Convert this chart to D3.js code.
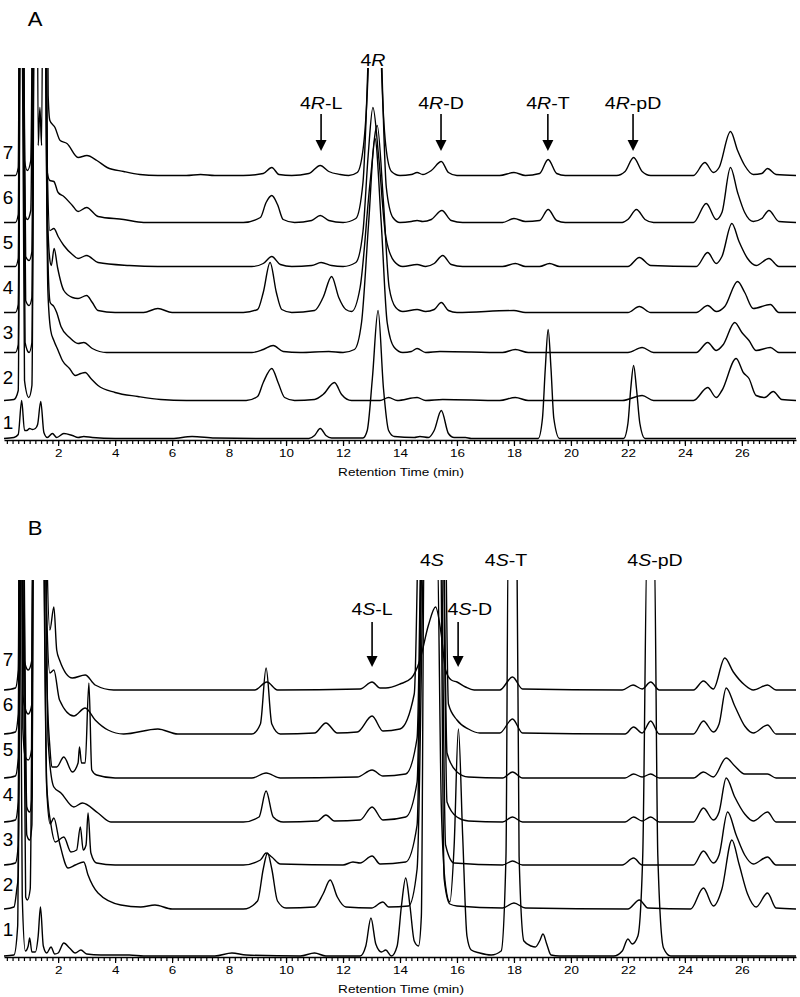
<!DOCTYPE html>
<html><head><meta charset="utf-8">
<script src="https://cdn.jsdelivr.net/npm/d3@7"></script>
<style>
body{margin:0;background:#fff;}
svg{display:block;font-family:"Liberation Sans",Arial,sans-serif;}
</style></head><body>
<svg id="chart" width="800" height="997"></svg>
<script>
// retention time window (min)
const rtDomain = [0.1, 27.9];
const majorTicks = [2, 4, 6, 8, 10, 12, 14, 16, 18, 20, 22, 24, 26];

// vertical offset of each trace (signal units), trace 1..7
const offsetsA = [0, 38, 86, 126, 172, 216, 263];
const offsetsB = [0, 47, 91, 134, 178, 222, 266];

// panel A traces: [time, signal]
const traceA1 = [[0.1,0],[0.45,1],[0.6,4],[0.72,38],[0.82,8],[0.9,8],[1.0,10],[1.1,9],[1.2,10],[1.28,14],[1.39,37],[1.5,6],[1.62,1],[1.8,5],[1.95,1],[2.2,5],[2.5,3],[2.7,1],[2.9,2],[3.2,1],[4,0],[6.0,0],[6.7,2],[7.5,0.5],[9,0],[10.8,0],[11.0,3],[11.2,10],[11.4,3],[11.6,0.5],[12.7,0.5],[12.85,8],[13.03,60],[13.23,128],[13.42,50],[13.6,8],[13.8,2],[14.5,1],[14.7,2],[15.0,1],[15.2,8],[15.45,28],[15.7,5],[15.9,1],[16.3,1],[16.5,0],[18.85,0],[19.0,20],[19.1,70],[19.2,109],[19.3,70],[19.4,20],[19.6,0],[21.85,0],[22.0,15],[22.1,50],[22.2,73],[22.3,50],[22.42,15],[22.6,0],[27.9,0]];
const traceA2 = [[0.1,0],[0.45,1],[0.6,10],[0.68,420],[0.73,420],[0.82,20],[0.97,3],[1.08,15],[1.17,420],[1.52,420],[1.64,110],[1.74,70],[1.85,60],[2.0,50],[2.15,40],[2.4,32],[2.6,25],[2.8,27],[2.95,28],[3.15,22],[3.4,15],[4.0,8],[4.8,4],[5.6,1],[6.5,0],[8.6,0],[9.0,4],[9.2,18],[9.5,32],[9.72,18],[9.95,3],[10.3,0],[11.0,1],[11.3,6],[11.7,18],[11.95,6],[12.3,0],[13.3,0],[13.6,3],[13.9,0],[14.6,3],[14.9,0],[15.5,1],[17.5,0],[18.05,3],[18.5,0],[21.8,0],[22.5,5],[22.9,0],[24.3,0],[24.8,13],[25.1,3],[25.3,10],[25.8,42],[26.05,28],[26.25,22],[26.5,5],[26.8,3],[27.1,9],[27.4,1],[27.9,0]];
const traceA3 = [[0.1,0],[0.5,0],[0.6,8],[0.68,420],[0.73,420],[0.84,10],[0.98,0],[1.08,10],[1.17,420],[1.52,420],[1.62,120],[1.72,50],[1.85,46],[1.95,40],[2.1,26],[2.4,15],[2.7,9],[2.9,10],[3.2,4],[3.7,0],[8.8,0],[9.2,3],[9.55,7],[9.9,1],[10.5,0],[11.5,1],[12.0,0],[12.4,3],[12.65,30],[12.9,130],[13.12,214],[13.34,130],[13.55,30],[13.8,5],[14.1,0],[14.4,1],[14.6,4],[14.9,0],[15.4,1],[17.6,0],[18.05,3],[18.5,0],[22.0,0],[22.5,5],[22.9,0],[24.4,0],[24.8,10],[25.1,2],[25.35,8],[25.75,30],[26.0,20],[26.25,12],[26.5,2],[27.0,5],[27.3,0],[27.9,0]];
const traceA4 = [[0.1,0],[0.5,0],[0.6,8],[0.68,420],[0.73,420],[0.86,12],[0.98,7],[1.08,15],[1.17,420],[1.52,420],[1.62,110],[1.7,55],[1.76,47],[1.86,64],[1.98,45],[2.2,22],[2.5,15],[2.7,14],[3.0,17],[3.2,10],[3.4,2],[4.0,0],[5.0,0],[5.5,4],[6.0,0],[8.5,0],[9.0,3],[9.2,20],[9.44,50],[9.66,20],[9.85,3],[10.2,0],[11.0,2],[11.3,15],[11.6,36],[11.85,15],[12.1,3],[12.3,1],[12.6,25],[12.95,130],[13.2,187],[13.42,110],[13.62,25],[13.85,5],[14.1,1],[14.6,3],[14.9,1],[15.2,3],[15.45,10],[15.7,2],[16.0,0],[18.0,2],[18.4,0],[22.0,0],[22.4,6],[22.8,0],[24.4,0],[24.8,7],[25.1,1],[25.4,6],[25.85,31],[26.1,20],[26.4,4],[27.0,8],[27.3,0],[27.9,0]];
const traceA5 = [[0.1,0],[0.5,0],[0.6,8],[0.68,420],[0.73,420],[0.86,10],[0.98,6],[1.08,15],[1.17,420],[1.52,420],[1.62,100],[1.71,36],[1.85,38],[2.0,30],[2.2,21],[2.5,12],[2.7,8],[3.0,11],[3.4,4],[4.5,1],[5.5,0],[8.8,0],[9.2,3],[9.5,10],[9.8,2],[10.2,0],[10.9,1],[11.23,4],[11.6,1],[12.0,0],[12.45,4],[12.7,35],[12.88,110],[13.05,159],[13.25,110],[13.5,30],[13.8,5],[14.1,0],[14.6,2],[14.9,0],[15.2,3],[15.5,11],[15.8,2],[16.2,0],[17.6,0],[18.05,3],[18.4,0],[18.9,0],[19.25,3],[19.6,0],[22.0,0],[22.4,9],[22.8,1],[24.4,0],[24.8,14],[25.1,3],[25.3,10],[25.65,43],[25.9,25],[26.2,8],[26.5,1],[26.95,8],[27.3,0],[27.9,0]];
const traceA6 = [[0.1,0],[0.5,0],[0.6,8],[0.68,420],[0.73,420],[0.82,10],[0.92,3],[1.04,12],[1.17,420],[1.52,420],[1.62,50],[1.71,42],[1.85,41],[2.0,30],[2.2,26],[2.5,17],[2.7,11],[3.0,15],[3.4,6],[4.3,3],[5.0,0],[8.5,0],[9.1,5],[9.3,20],[9.5,27],[9.7,18],[9.9,3],[10.3,0],[10.9,2],[11.2,7],[11.5,2],[12.0,0],[12.45,4],[12.7,40],[12.92,200],[13.12,420],[13.32,200],[13.52,35],[13.75,5],[14.0,0],[14.4,1],[14.6,2],[14.8,1],[15.1,3],[15.47,12],[15.8,2],[16.2,0],[17.6,0],[18.0,4],[18.4,1],[18.9,2],[19.2,13],[19.5,2],[19.8,0],[21.8,0],[22.0,3],[22.3,13],[22.6,3],[22.9,0],[24.3,0],[24.75,19],[25.1,3],[25.3,10],[25.6,55],[25.85,30],[26.1,10],[26.4,1],[26.7,4],[26.95,12],[27.3,1],[27.9,0]];
const traceA7 = [[0.1,0],[0.5,0],[0.6,8],[0.68,420],[0.73,420],[0.82,15],[0.92,5],[1.04,15],[1.17,420],[1.24,420],[1.3,30],[1.36,68],[1.42,30],[1.5,420],[1.57,420],[1.65,80],[1.71,55],[1.89,48],[2.07,35],[2.31,32],[2.7,18],[3.01,20],[3.36,15],[3.72,8],[4.3,4],[4.87,1],[5.5,0],[6.5,0],[7,1],[7.5,0],[8.5,0],[9.2,2],[9.5,8],[9.75,1],[10.2,0],[10.8,2],[11.2,10],[11.5,4],[11.9,1],[12.2,0],[12.5,3],[12.72,30],[12.92,140],[13.12,600],[13.32,140],[13.5,30],[13.7,4],[14.0,0],[14.4,1],[14.6,3],[14.8,1],[15.1,5],[15.45,14],[15.7,3],[16.0,0],[17.5,0],[18.0,3],[18.4,0],[18.9,2],[19.2,16],[19.5,2],[19.8,0],[21.6,0],[21.9,4],[22.2,18],[22.5,4],[22.8,0],[24.3,0],[24.7,13],[25.0,3],[25.2,8],[25.6,44],[25.85,25],[26.1,10],[26.4,1],[26.7,2],[26.9,7],[27.2,1],[27.9,0]];

// panel B traces: [time, signal]
const traceB1 = [[0.1,0],[0.45,1],[0.58,30],[0.66,420],[0.74,60],[0.85,5],[0.95,10],[1.0,18],[1.08,4],[1.2,4],[1.3,20],[1.38,49],[1.48,10],[1.6,3],[1.75,9],[1.88,2],[2.0,3],[2.2,13],[2.4,8],[2.6,3],[2.8,6],[3.0,2],[3.5,1],[4.5,1],[5,0],[7.5,0],[8.1,3],[8.6,1],[10.5,0],[11.0,3],[11.4,0],[12.6,0],[12.8,10],[12.98,38],[13.15,12],[13.35,4],[13.5,6],[13.7,0],[13.9,10],[14.05,50],[14.2,78],[14.35,50],[14.5,15],[14.65,10],[14.75,40],[14.85,420],[15.0,420],[15.3,420],[15.45,150],[15.6,70],[15.75,54],[15.9,110],[16.05,227],[16.2,120],[16.35,20],[16.5,6],[16.8,3],[17.2,1],[17.55,5],[17.72,100],[17.8,420],[18.1,420],[18.18,100],[18.35,15],[18.6,10],[18.75,9],[18.9,15],[19.02,22],[19.15,12],[19.3,1],[19.6,0],[21.5,0],[21.8,5],[22.0,17],[22.15,12],[22.35,20],[22.52,100],[22.68,420],[22.92,420],[23.05,100],[23.25,8],[23.5,0],[27.9,0]];
const traceB2 = [[0.1,0],[0.45,2],[0.55,20],[0.6,33],[0.68,420],[0.74,420],[0.86,12],[0.92,9],[1.02,20],[1.14,420],[1.45,420],[1.6,120],[1.72,85],[1.85,91],[2.05,66],[2.35,41],[2.6,44],[2.9,47],[3.05,34],[3.4,16],[4.2,4],[4.9,2],[5.4,4],[6.0,0],[8.5,0],[9.0,8],[9.2,40],[9.35,56],[9.5,40],[9.7,8],[10.0,1],[11.0,2],[11.3,15],[11.55,29],[11.8,12],[12.1,2],[13.0,1],[13.4,7],[13.6,2],[14.3,3],[14.6,40],[14.9,420],[15.4,420],[15.55,30],[15.75,5],[16.0,3],[17.6,1],[18.0,6],[18.4,1],[22.0,0],[22.4,9],[22.7,1],[24.2,0],[24.65,21],[25.0,3],[25.3,20],[25.65,69],[25.9,45],[26.2,15],[26.5,2],[26.9,16],[27.2,1],[27.9,0]];
const traceB3 = [[0.1,0],[0.5,2],[0.6,20],[0.68,420],[0.74,420],[0.9,30],[1.0,25],[1.08,40],[1.14,420],[1.45,420],[1.6,80],[1.75,40],[1.9,23],[2.2,28],[2.45,13],[2.65,15],[2.78,38],[2.88,15],[2.98,20],[3.05,52],[3.15,12],[3.35,2],[4.0,0],[8.5,0],[9.1,5],[9.3,12],[9.5,8],[9.8,1],[12.0,0],[12.35,3],[12.6,2],[13.02,9],[13.3,1],[14.2,3],[14.6,40],[14.85,420],[15.4,420],[15.6,20],[15.9,2],[17.6,0],[17.95,4],[18.3,0],[21.8,0],[22.2,7],[22.5,0],[24.3,0],[24.65,14],[25.0,2],[25.2,10],[25.5,53],[25.8,30],[26.1,10],[26.4,1],[26.9,8],[27.2,0],[27.9,0]];
const traceB4 = [[0.1,0],[0.5,2],[0.6,20],[0.68,420],[0.74,420],[0.9,15],[1.0,10],[1.08,25],[1.14,420],[1.5,420],[1.65,80],[1.85,35],[2.1,29],[2.55,15],[2.85,19],[3.4,9],[3.85,0],[8.5,0],[9.05,5],[9.3,31],[9.55,5],[9.9,0],[11.1,1],[11.4,7],[11.7,1],[12.6,2],[13.02,15],[13.4,2],[14.2,5],[14.6,40],[14.85,420],[15.45,420],[15.65,20],[16.0,5],[16.4,1],[17.6,0],[17.95,5],[18.3,0],[21.9,0],[22.2,5],[22.5,1],[22.8,5],[23.1,0],[24.3,0],[24.65,14],[25.0,2],[25.2,10],[25.45,44],[25.75,25],[26.1,8],[26.4,1],[26.9,10],[27.2,0],[27.9,0]];
const traceB5 = [[0.1,0],[0.5,2],[0.6,20],[0.68,420],[0.76,50],[0.85,21],[0.95,18],[1.08,30],[1.14,420],[1.5,420],[1.6,100],[1.71,31],[1.78,11],[1.95,11],[2.2,21],[2.5,6],[2.7,15],[2.75,31],[2.82,15],[2.95,15],[3.08,95],[3.18,8],[3.35,3],[4.0,0],[8.8,0],[9.3,5],[9.8,0],[12.5,1],[13.02,8],[13.4,2],[14.2,4],[14.6,40],[14.85,420],[15.45,420],[15.65,25],[16.0,6],[16.4,1],[17.6,0],[17.95,6],[18.3,0],[21.9,0],[22.2,4],[22.5,1],[22.8,4],[23.1,0],[24.3,0],[24.65,6],[25.0,1],[25.45,20],[25.75,12],[26.1,4],[26.9,4],[27.2,0],[27.9,0]];
const traceB6 = [[0.1,0],[0.5,2],[0.6,20],[0.68,420],[0.76,40],[0.85,25],[0.95,20],[1.08,30],[1.14,420],[1.5,420],[1.6,120],[1.71,61],[1.85,64],[2.05,34],[2.55,18],[2.95,26],[3.3,14],[3.75,4],[4.3,0],[5.5,5],[6.2,0],[8.8,0],[9.1,10],[9.3,66],[9.5,10],[9.8,0],[11.0,1],[11.4,11],[11.8,1],[12.5,2],[13.02,18],[13.4,3],[14.0,5],[14.5,40],[14.8,420],[15.5,420],[15.7,30],[16.0,14],[16.4,5],[16.8,1],[17.5,1],[17.95,15],[18.3,1],[21.9,0],[22.2,7],[22.5,1],[22.8,13],[23.1,0],[24.3,0],[24.65,13],[25.0,2],[25.2,10],[25.45,46],[25.75,28],[26.1,8],[26.4,1],[26.9,9],[27.2,0],[27.9,0]];
const traceB7 = [[0.1,0],[0.5,2],[0.6,20],[0.68,420],[0.76,40],[0.85,25],[0.95,20],[1.08,30],[1.14,420],[1.5,420],[1.6,150],[1.71,60],[1.85,83],[1.95,40],[2.05,30],[2.5,12],[2.95,15],[3.3,5],[3.95,0],[8.9,0],[9.33,8],[9.7,0],[12.6,1],[13.02,8],[13.3,2],[13.5,2],[14.0,6],[14.4,12],[14.7,30],[15.0,65],[15.25,83],[15.45,55],[15.6,20],[15.8,10],[16.0,8],[16.3,3],[16.6,0],[17.5,0],[17.95,13],[18.3,1],[21.8,0],[22.18,5],[22.5,1],[22.8,8],[23.1,0],[24.3,0],[24.65,9],[25.0,1],[25.4,32],[25.7,18],[26.1,5],[26.4,0],[26.9,5],[27.2,0],[27.9,0]];

// peak labels
const labelsA = [["4", "R", "-L"], ["4", "R", "-D"], ["4", "R", "-T"], ["4", "R", "-pD"]];
const labelRtA = [11.23, 15.44, 19.19, 22.18];
const topLabelsA = [["4", "R", ""]];
const topLabelRtA = [13.05];
const labelsB = [["4", "S", "-L"], ["4", "S", "-D"]];
const labelRtB = [13.02, 16.04];
const labelTextRtB = [13.02, 16.45];
const topLabelsB = [["4", "S", ""], ["4", "S", "-T"], ["4", "S", "-pD"]];
const topLabelRtB = [15.12, 17.72, 22.95];
const traceNames = ["1", "2", "3", "4", "5", "6", "7"];

const svg = d3.select("#chart");
const x = d3.scaleLinear().domain(rtDomain).range([4, 796]);

// the original figure is stretched sideways, so text is widened a bit
function stretchedText(g, px, py, size, sx) {
    return g.append("text")
        .attr("transform", `translate(${px},${py}) scale(${sx},1)`)
        .attr("text-anchor", "middle")
        .style("font-size", size + "px");
}

function addLabel(g, parts, px, py, size) {
    const t = stretchedText(g, px, py, size, 1.15);
    t.append("tspan").text(parts[0]);
    t.append("tspan").style("font-style", "italic").text(parts[1]);
    t.append("tspan").text(parts[2]);
}

function drawArrow(g, px, y0, y1) {
    g.append("line")
        .attr("x1", px).attr("x2", px)
        .attr("y1", y0).attr("y2", y1 - 8)
        .attr("stroke", "#000").attr("stroke-width", 1.6);
    g.append("path")
        .attr("d", `M${px - 5.5},${y1 - 11}L${px + 5.5},${y1 - 11}L${px},${y1}Z`)
        .attr("fill", "#000");
}

function drawPanel(opt) {
    const g = svg.append("g");
    const y = d3.scaleLinear().domain([0, opt.base - opt.top]).range([opt.base, opt.top]);

    g.append("clipPath").attr("id", "clip" + opt.letter)
        .append("rect")
        .attr("x", 0).attr("y", opt.top)
        .attr("width", 800).attr("height", opt.axisY - opt.top);

    const traces = g.append("g").attr("clip-path", `url(#clip${opt.letter})`);
    opt.traces.forEach((tr, i) => {
        const line = d3.line()
            .x(d => x(d[0]))
            .y(d => y(d[1] + opt.offsets[i]))
            .curve(d3.curveMonotoneX);
        traces.append("path")
            .attr("d", line(tr))
            .attr("fill", "none")
            .attr("stroke", "#000")
            .attr("stroke-width", 1.4)
            .attr("stroke-linejoin", "round");
    });

    // trace numbers
    const ny = d3.scaleLinear().domain([0, 6]).range([opt.numBottom, opt.numBottom - 270]);
    traceNames.forEach((n, i) => {
        stretchedText(g, 8, ny(i), 18, 1.05).text(n);
    });

    // axis: minor ticks every 0.2 min, labelled ticks every 2 min
    const ax = g.append("g").attr("transform", `translate(0,${opt.axisY})`);
    ax.call(d3.axisBottom(x).tickValues(d3.range(1, 140).map(i => i / 5))
        .tickSize(4).tickSizeOuter(0).tickFormat(""));
    const ax2 = g.append("g").attr("transform", `translate(0,${opt.axisY})`);
    ax2.call(d3.axisBottom(x).tickValues(majorTicks).tickSize(6).tickSizeOuter(0).tickPadding(3));
    ax2.attr("font-family", null).attr("font-size", null);
    ax2.select(".domain").remove();
    g.selectAll(".tick line").attr("stroke-width", 1.2);
    ax.select(".domain").attr("stroke-width", 1.4);
    ax2.selectAll("text").style("font-size", "11.5px").attr("transform", "scale(1.17,1)");
    stretchedText(g, 401, opt.axisY + 36, 11.6, 1.17).text("Retention Time (min)");

    // panel letter
    stretchedText(g, 35, opt.letterY, 21, 1.05).text(opt.letter);

    // labels
    opt.topLabels.forEach((p, i) => addLabel(g, p, x(opt.topRt[i]), opt.topY, 17));
    opt.labels.forEach((p, i) => {
        addLabel(g, p, x(opt.textRt[i]), opt.labelY, 17);
        drawArrow(g, x(opt.arrowRt[i]), opt.arrowY0, opt.arrowY1);
    });
}

drawPanel({
    letter: "A", letterY: 26, top: 68, base: 438.5, axisY: 440, numBottom: 429,
    traces: [traceA1, traceA2, traceA3, traceA4, traceA5, traceA6, traceA7],
    offsets: offsetsA,
    topLabels: topLabelsA, topRt: topLabelRtA, topY: 66,
    labels: labelsA, textRt: labelRtA, arrowRt: labelRtA, labelY: 109,
    arrowY0: 114, arrowY1: 151
});
drawPanel({
    letter: "B", letterY: 535, top: 580, base: 956, axisY: 957, numBottom: 936,
    traces: [traceB1, traceB2, traceB3, traceB4, traceB5, traceB6, traceB7],
    offsets: offsetsB,
    topLabels: topLabelsB, topRt: topLabelRtB, topY: 566,
    labels: labelsB, textRt: labelTextRtB, arrowRt: labelRtB, labelY: 615,
    arrowY0: 622, arrowY1: 667
});
</script></body></html>
